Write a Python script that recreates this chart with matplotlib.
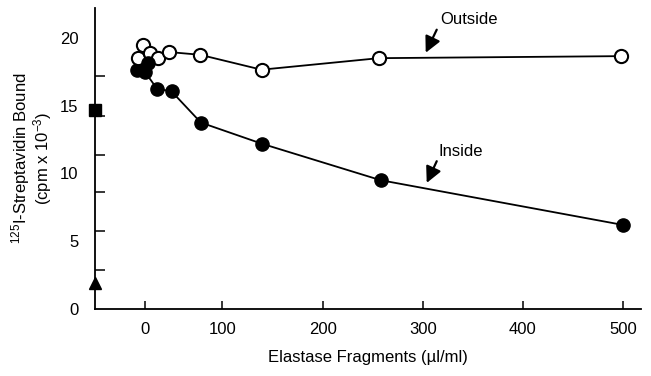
import numpy as np
import matplotlib
matplotlib.use("Agg")
import matplotlib.pyplot as plt

plt.rcParams['font.family'] = ['Liberation Sans', 'DejaVu Sans']
plt.rcParams['mathtext.fontset'] = 'custom'
plt.rcParams['mathtext.rm'] = 'Liberation Sans'
plt.rcParams['mathtext.it'] = 'Liberation Sans:italic'
plt.rcParams['mathtext.bf'] = 'Liberation Sans:bold'

# ---- data ----
outside_x = [-3, 6, 17, 31, 71, 139, 256, 498]
outside_y = [19.45, 18.9, 18.5, 18.95, 18.75, 17.65, 18.5, 18.65]
outside_rep_x = [-9]
outside_rep_y = [18.5]

inside_x = [0, 15, 34, 72, 139, 258, 500]
inside_y = [17.45, 16.25, 16.05, 13.75, 12.2, 9.5, 6.2]
inside_rep_back_x = [-11]
inside_rep_back_y = [17.6]
inside_rep_top_x = [3]
inside_rep_top_y = [18.15]

square_y = 14.65     # control (filled square on the y axis)
triangle_y = 1.95    # control (filled triangle on the y axis)

x_ticks = [0, 100, 200, 300, 400, 500]
y_labels = [0, 5, 10, 15, 20]
y_tick_marks = [2.9, 5.75, 8.6, 11.35, 14.25, 17.15, 20.0]

# ---- axis scale: compressed between 0 and 100 as drawn ----
def fwd(v):
    v = np.asarray(v, dtype=float)
    return np.where(v < 100, 0.77 * v, 77 + (v - 100))

def inv(u):
    u = np.asarray(u, dtype=float)
    return np.where(u < 77, u / 0.77, u - 77 + 100)

fig = plt.figure(figsize=(6.51, 3.76), dpi=100)
ax = fig.add_axes([95/651, 1 - 309/376, (641-95)/651, (309-8)/376])
ax.set_xscale('function', functions=(fwd, inv))
ax.set_xlim(-65.3, 518)
ax.set_ylim(0, 22.2)

lw = 1.3
ms = 9.5
# inside replicates behind
ax.plot(inside_rep_back_x, inside_rep_back_y, 'o', color='black', ms=ms, zorder=2)
ax.plot(inside_x, inside_y, '-o', color='black', lw=lw, ms=ms, zorder=2)
# outside
ax.plot(outside_x, outside_y, '-', color='black', lw=lw, zorder=3)
ax.plot(outside_rep_x + outside_x, outside_rep_y + outside_y, 'o', mfc='white',
        mec='black', mew=1.5, ms=ms, ls='none', zorder=4)
ax.plot(inside_rep_top_x, inside_rep_top_y, 'o', color='black', ms=ms, zorder=5)

xmin = ax.get_xlim()[0]
ax.plot([xmin], [square_y], 's', color='black', ms=9, clip_on=False, zorder=6)
ax.plot([xmin], [triangle_y], '^', color='black', ms=8.5, clip_on=False, zorder=6)

for s in ['top', 'right']:
    ax.spines[s].set_visible(False)
for s in ['left', 'bottom']:
    ax.spines[s].set_linewidth(1.3)

ax.set_xticks(x_ticks)
ax.set_xticklabels([str(t) for t in x_ticks])
ax.tick_params(axis='x', direction='in', length=6, width=1.1, pad=9, labelsize=12)
ax.set_yticks(y_labels)
ax.set_yticklabels([str(t) for t in y_labels])
ax.tick_params(axis='y', which='major', length=0, pad=12, labelsize=12)
ax.set_yticks(y_tick_marks, minor=True)
ax.tick_params(axis='y', which='minor', direction='in', length=7, width=1.1)
ax.xaxis.set_minor_locator(matplotlib.ticker.NullLocator())

ax.set_xlabel('Elastase Fragments (µl/ml)', fontsize=12, labelpad=10)
ax.set_ylabel('$^{125}$I-Streptavidin Bound\n(cpm x 10$^{-3}$)', fontsize=12,
              linespacing=0.95)
ax.yaxis.set_label_coords(-0.075, 0.5)

arrow_props = dict(arrowstyle='-|>,head_length=0.6,head_width=0.3', color='black',
                   lw=1.6, mutation_scale=16, shrinkA=0, shrinkB=0)
ax.text(346, 21.35, 'Outside', ha='center', va='center', fontsize=12)
ax.annotate('', xy=(303, 18.9), xytext=(314, 20.6), arrowprops=arrow_props)
ax.text(338, 11.6, 'Inside', ha='center', va='center', fontsize=12)
ax.annotate('', xy=(304, 9.3), xytext=(314, 10.9), arrowprops=arrow_props)

fig.savefig('out.png', dpi=100)
